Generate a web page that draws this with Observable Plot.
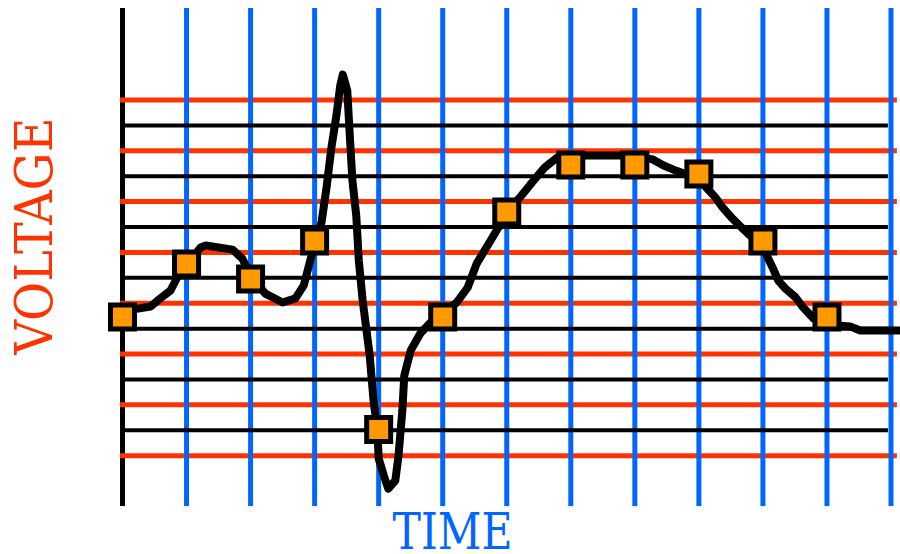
<!DOCTYPE html>
<html><head><meta charset="utf-8">
<script src="https://cdn.jsdelivr.net/npm/d3@7"></script>
<script src="https://cdn.jsdelivr.net/npm/@observablehq/plot@0.6"></script>
<style>
html,body{margin:0;padding:0;background:#fff;}
#chart svg{display:block;overflow:visible;background:#fff}
</style></head><body><div id="chart"></div>
<script>
// Grid
const timeTicks = [0,1,2,3,4,5,6,7,8,9,10,11,12];
const redLevels = [7,5,3,1,-1,-3,-5,-7];
const blackLevels = [6,4,2,0,-2,-4,-6];

// Sampled markers
const markerTime = [0,1,2,3,4,5,6,7,8,9,10,11];
const markerVolt = [-1.54,0.54,-0.05,1.45,-5.97,-1.54,2.59,4.44,4.44,4.09,1.45,-1.54];

// Signal trace
const curveTime = [0.05,0.44,0.59,0.75,0.87,1.03,1.22,1.30,1.72,1.87,2.01,2.23,2.50,2.70,2.83,2.94,3.03,3.11,3.19,3.26,3.34,3.40,3.44,3.51,3.54,3.59,3.65,3.69,3.75,3.79,3.86,3.92,3.98,4.00,4.08,4.15,4.26,4.31,4.37,4.40,4.50,4.65,4.81,4.97,5.22,5.39,5.53,5.72,5.86,6.00,6.23,6.42,6.59,6.79,6.98,7.46,7.95,8.28,8.45,8.64,8.98,9.10,9.26,9.37,9.51,9.65,9.78,9.95,10.06,10.15,10.24,10.35,10.51,10.63,10.79,11.15,11.37,11.52,12.15];
const curveVolt = [-1.29,-1.13,-0.81,-0.50,0.09,0.60,1.19,1.27,1.11,0.76,0.05,-0.62,-0.97,-0.81,-0.30,0.76,1.47,2.22,3.63,5.09,6.39,7.57,8.00,7.37,6.00,3.83,2.45,0.68,-0.89,-1.68,-3.06,-4.83,-6.01,-7.11,-7.78,-8.30,-7.98,-6.99,-5.22,-3.84,-2.86,-2.19,-1.76,-1.44,-0.97,-0.38,0.56,1.35,1.94,2.57,3.24,3.83,4.34,4.74,4.81,4.81,4.81,4.66,4.42,4.22,3.91,3.59,3.16,2.77,2.37,2.02,1.71,1.35,0.88,0.41,-0.11,-0.42,-0.77,-1.17,-1.60,-1.88,-1.92,-2.07,-2.07];

const xLabel = "TIME";
const yLabel = "VOLTAGE";

const yMin = -9, yMax = 10.6;
const curve = curveTime.map((t, i) => ({t, v: curveVolt[i]}));
const markers = markerTime.map((t, i) => ({t, v: markerVolt[i]}));

const RED = "#ff3300", BLUE = "#0066ff", ORANGE = "#ff9900";

const plot = Plot.plot({
  width: 900, height: 554,
  marginLeft: 122, marginRight: 9.5, marginTop: 8, marginBottom: 48,
  style: {background: "#fff"},
  x: {domain: [0, 12], axis: null},
  y: {domain: [yMin, yMax], axis: null},
  marks: [
    Plot.ruleX([timeTicks[0]], {y1: yMin, y2: yMax, stroke: "#000", strokeWidth: 5}),
    Plot.ruleY(redLevels, {x1: -0.03, x2: 12.1, stroke: RED, strokeWidth: 5}),
    Plot.ruleX(timeTicks.slice(1), {y1: yMin, y2: yMax, stroke: BLUE, strokeWidth: 5}),
    Plot.ruleY(blackLevels, {x1: 0, x2: 11.96, stroke: "#000", strokeWidth: 4}),
    Plot.line(curve, {x: "t", y: "v", stroke: "#000", strokeWidth: 8, strokeLinejoin: "round", strokeLinecap: "butt"}),
    Plot.dot(markers, {x: "t", y: "v", symbol: "square", r: 13.54, fill: ORANGE, stroke: "#000", strokeWidth: 5}),
    Plot.text([xLabel], {text: d => d, frameAnchor: "bottom", textAnchor: "start", dx: -114.25, dy: 26, fill: BLUE, fontSize: 50, fontFamily: "DejaVu Serif", lineAnchor: "middle"}),
    Plot.text([yLabel], {text: d => d, frameAnchor: "left", textAnchor: "start", rotate: -90, dx: -87, dy: 97, fill: RED, fontSize: 52, fontFamily: "DejaVu Serif", lineAnchor: "middle"})
  ]
});

d3.select(plot).selectAll("text").each(function() {
  const s = d3.select(this);
  if (s.text() === xLabel) s.attr("textLength", 120).attr("lengthAdjust", "spacingAndGlyphs");
  if (s.text() === yLabel) s.attr("textLength", 237).attr("lengthAdjust", "spacingAndGlyphs");
});

document.getElementById("chart").appendChild(plot);
</script>
</body></html>
